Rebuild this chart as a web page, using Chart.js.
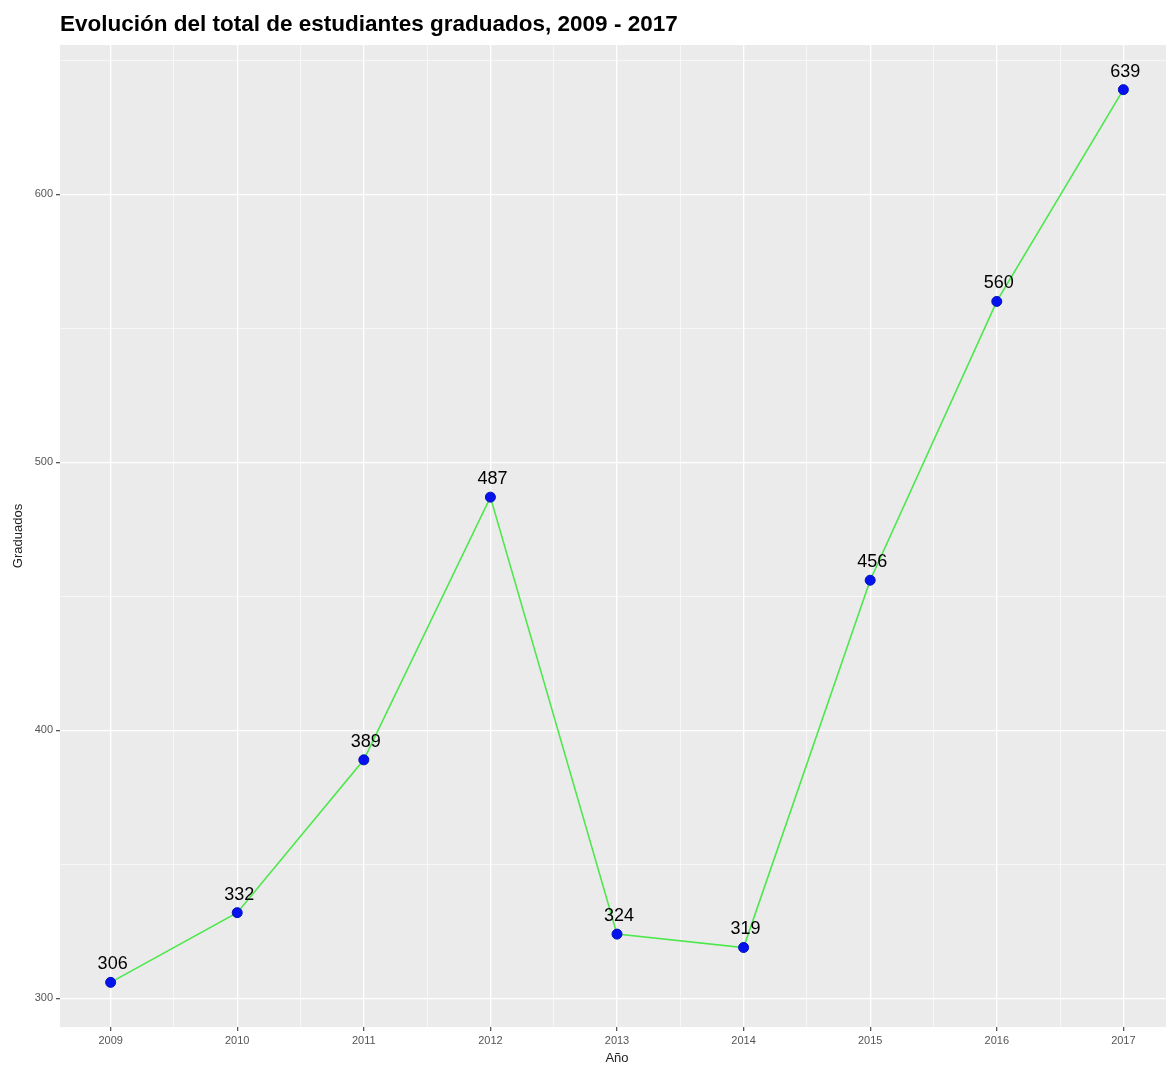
<!DOCTYPE html>
<html>
<head>
<meta charset="utf-8">
<script src="https://cdn.jsdelivr.net/npm/chart.js@4.4.1/dist/chart.umd.min.js"></script>
<style>
  html, body { margin: 0; padding: 0; background: #fff; overflow: hidden; }
  #chart { display: block; }
</style>
</head>
<body>
<canvas id="chart" width="1180" height="1066"></canvas>
<script>
// Data
const years = [2009, 2010, 2011, 2012, 2013, 2014, 2015, 2016, 2017];
const graduados = [306, 332, 389, 487, 324, 319, 456, 560, 639];
const yTicks = [300, 400, 500, 600];
const xTicks = years;

const chartTitle = 'Evolución del total de estudiantes graduados, 2009 - 2017';
const xTitle = 'Año';
const yTitle = 'Graduados';

const FONT = '"Liberation Sans", Arial, sans-serif';

// minor breaks halfway between majors (inside range only)
function withMinors(majors, step, min, max) {
    const out = [];
    for (let v = majors[0] - step / 2; v <= majors[majors.length - 1] + step / 2 + 1e-9; v += step / 2) {
        if (v >= min && v <= max) out.push({ value: +v.toFixed(3) });
    }
    return out;
}

function isMajor(list, v) {
    return list.some(m => Math.abs(m - v) < 1e-6);
}

// labels above points + titles
const extras = {
    id: 'extras',
    afterDatasetsDraw(chart) {
        const ctx = chart.ctx;
        const meta = chart.getDatasetMeta(0);
        ctx.save();
        ctx.fillStyle = '#000';
        ctx.font = '18px ' + FONT;
        ctx.textAlign = 'center';
        ctx.textBaseline = 'middle';
        meta.data.forEach((pt, i) => {
            ctx.fillText(String(graduados[i]), pt.x + 2, pt.y - 18);
        });
        ctx.restore();
    },
    afterDraw(chart) {
        const ctx = chart.ctx;
        const area = chart.chartArea;
        ctx.save();
        ctx.fillStyle = '#000';
        ctx.font = 'bold 22.5px ' + FONT;
        ctx.textAlign = 'left';
        ctx.textBaseline = 'middle';
        ctx.fillText(chartTitle, area.left, 25);

        ctx.font = '13px ' + FONT;
        ctx.fillStyle = '#222';
        ctx.textAlign = 'center';
        ctx.fillText(xTitle, (area.left + area.right) / 2, 1058);

        ctx.translate(18, (area.top + area.bottom) / 2);
        ctx.rotate(-Math.PI / 2);
        ctx.fillText(yTitle, 0, 0);
        ctx.restore();
    }
};

const ctx = document.getElementById('chart').getContext('2d');
new Chart(ctx, {
    type: 'line',
    data: {
        datasets: [{
            data: years.map((y, i) => ({ x: y, y: graduados[i] })),
            borderColor: '#4be84b',
            borderWidth: 1.6,
            pointRadius: 5,
            pointBackgroundColor: '#0612ee',
            pointBorderColor: '#0010b8',
            pointBorderWidth: 1,
            tension: 0
        }]
    },
    options: {
        responsive: false,
        animation: false,
        devicePixelRatio: 1,
        layout: { padding: { top: 45, left: 0, right: 0, bottom: 0 } },
        plugins: {
            legend: { display: false },
            tooltip: { enabled: false },
            title: { display: false }
        },
        scales: {
            x: {
                type: 'linear',
                min: 2008.6,
                max: 2017.4,
                afterBuildTicks(scale) { scale.ticks = withMinors(xTicks, 1, 2008.6, 2017.4); },
                afterFit(scale) { scale.height = 39; },
                border: { display: false },
                grid: {
                    color: '#ffffff',
                    lineWidth: c => isMajor(xTicks, c.tick.value) ? 1.3 : 0.6,
                    tickColor: c => isMajor(xTicks, c.tick.value) ? '#555' : 'rgba(0,0,0,0)',
                    tickLength: 4,
                    drawTicks: true
                },
                ticks: {
                    autoSkip: false,
                    maxRotation: 0,
                    padding: 3,
                    color: '#555',
                    font: { family: FONT, size: 11 },
                    callback: v => isMajor(xTicks, v) ? String(v) : ''
                }
            },
            y: {
                type: 'linear',
                min: 289.35,
                max: 655.65,
                afterBuildTicks(scale) { scale.ticks = withMinors(yTicks, 100, 289.35, 655.65); },
                afterFit(scale) { scale.width = 60; },
                border: { display: false },
                grid: {
                    color: '#ffffff',
                    lineWidth: c => isMajor(yTicks, c.tick.value) ? 1.3 : 0.6,
                    tickColor: c => isMajor(yTicks, c.tick.value) ? '#555' : 'rgba(0,0,0,0)',
                    tickLength: 4,
                    drawTicks: true
                },
                ticks: {
                    autoSkip: false,
                    padding: 3,
                    color: '#555',
                    font: { family: FONT, size: 11 },
                    callback: v => isMajor(yTicks, v) ? String(v) : ''
                }
            }
        }
    },
    plugins: [{
        id: 'panelBg',
        beforeDraw(chart) {
            const a = chart.chartArea;
            const c = chart.ctx;
            c.save();
            c.fillStyle = '#ebebeb';
            c.fillRect(a.left, a.top, a.right - a.left, a.bottom - a.top);
            c.restore();
        }
    }, extras]
});
</script>
</body>
</html>
